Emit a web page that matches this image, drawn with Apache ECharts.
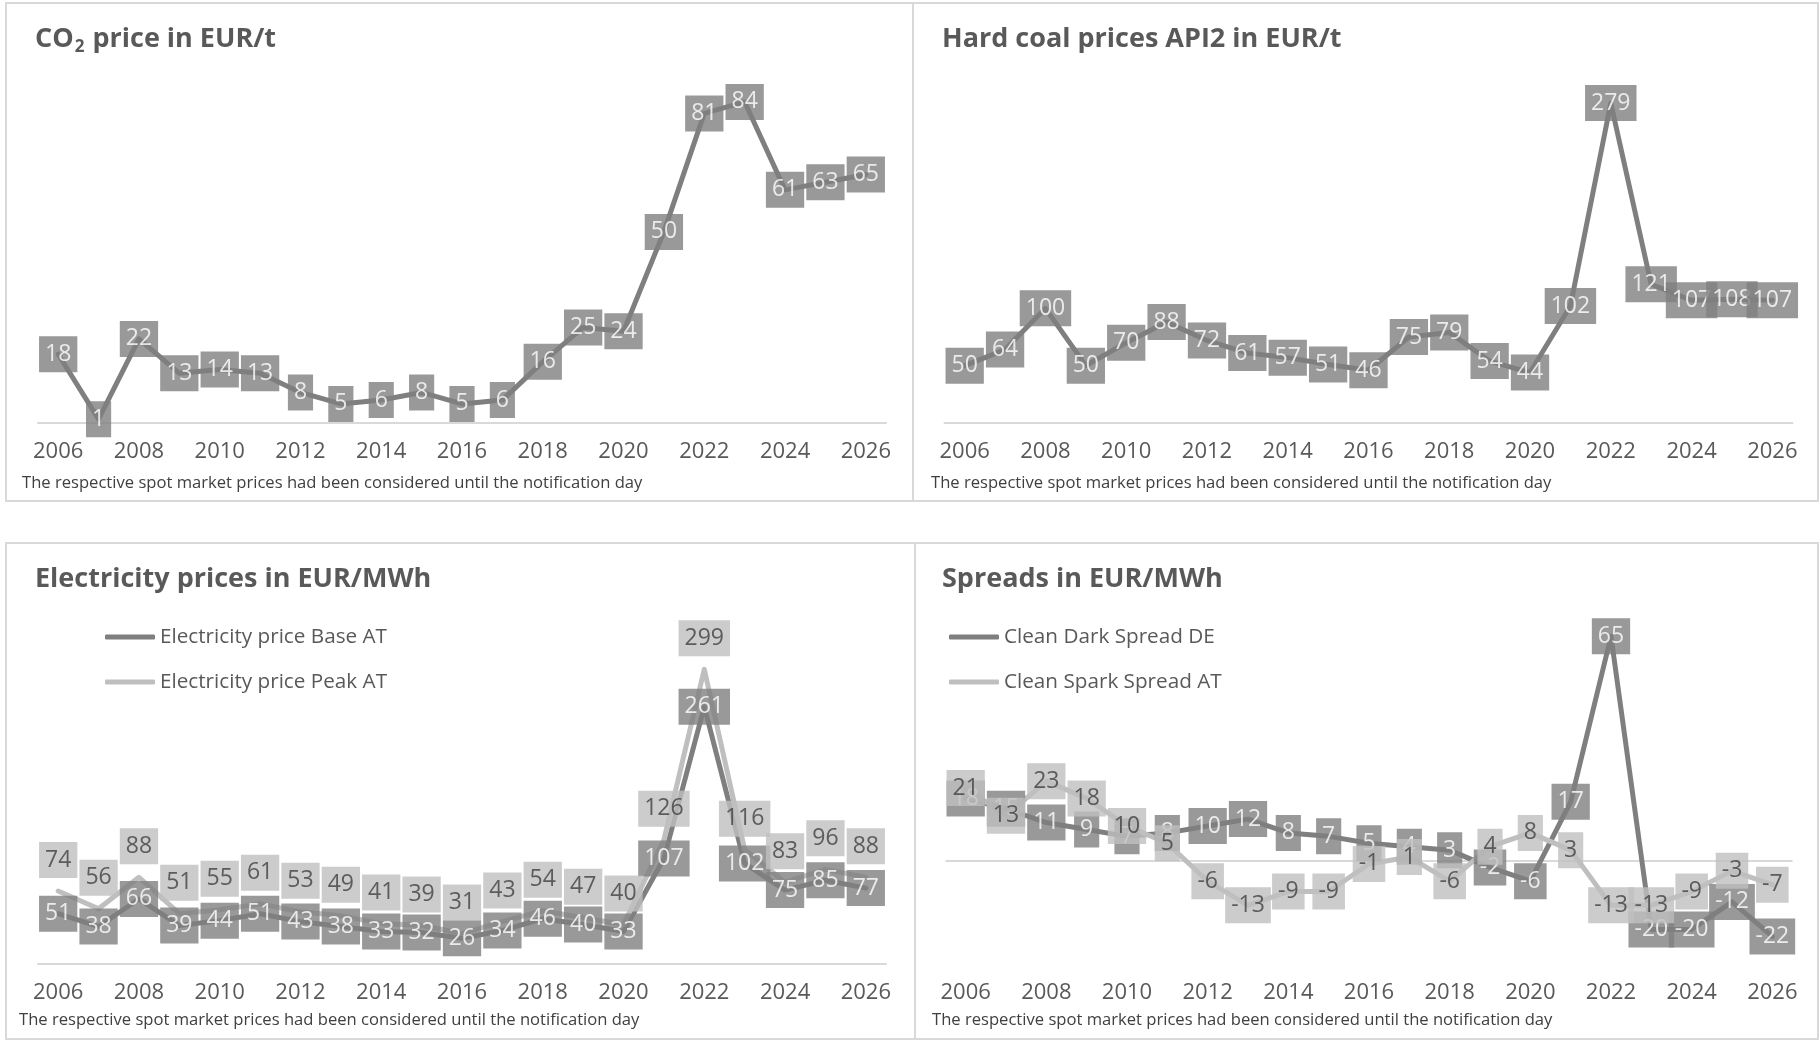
<!DOCTYPE html>
<html>
<head>
<meta charset="utf-8">
<title>Prices and spreads</title>
<script src="https://cdn.jsdelivr.net/npm/echarts@6/dist/echarts.min.js"></script>
<style>
html, body { margin: 0; padding: 0; background: #fff; }
#main { width: 1819px; height: 1041px; }
</style>
</head>
<body>
<div id="main"></div>
<script>
var years = ['2006','2007','2008','2009','2010','2011','2012','2013','2014','2015','2016',
             '2017','2018','2019','2020','2021','2022','2023','2024','2025','2026'];
var co2Price = [18, 1, 22, 13, 14, 13, 8, 5, 6, 8, 5, 6, 16, 25, 24, 50, 81, 84, 61, 63, 65];
var coalPrice = [50, 64, 100, 50, 70, 88, 72, 61, 57, 51, 46, 75, 79, 54, 44, 102, 279, 121, 107, 108, 107];
var elecBase = [51, 38, 66, 39, 44, 51, 43, 38, 33, 32, 26, 34, 46, 40, 33, 107, 261, 102, 75, 85, 77];
var elecPeak = [74, 56, 88, 51, 55, 61, 53, 49, 41, 39, 31, 43, 54, 47, 40, 126, 299, 116, 83, 96, 88];
var darkSpreadDE = [18, 15, 11, 9, 7, 8, 10, 12, 8, 7, 5, 4, 3, -2, -6, 17, 65, -20, -20, -12, -22];
var sparkSpreadAT = [21, 13, 23, 18, 10, 5, -6, -13, -9, -9, -1, 1, -6, 4, 8, 3, -13, -13, -9, -3, -7];
var footnote = 'The respective spot market prices had been considered until the notification day';

var DARK = '#7f7f7f';
var LIGHT = '#bfbfbf';
var TEXT = '#595959';
var BORDER = '#d9d9d9';
var FONT = '"Open Sans", "Noto Sans", sans-serif';

var myChart = echarts.init(document.getElementById('main'));

// panel frames
var frames = [[6, 3, 907, 498], [913, 3, 905, 498], [6, 543, 909, 496], [915, 543, 903, 496]];

function frame(f) {
  return {
    type: 'rect', silent: true, z: -1,
    shape: { x: f[0], y: f[1], width: f[2], height: f[3] },
    style: { fill: 'none', stroke: BORDER, lineWidth: 2 }
  };
}

function titleText(text, left, top) {
  return {
    text: text, left: left, top: top, padding: 0,
    textStyle: { fontFamily: FONT, fontSize: 27, fontWeight: 'bold', color: TEXT, lineHeight: 34 }
  };
}

function noteText(left, top) {
  return {
    text: footnote, left: left, top: top, padding: 0,
    textStyle: { fontFamily: FONT, fontSize: 16.6, fontWeight: 'normal', color: '#404040', lineHeight: 22 }
  };
}

function xAxis(idx, showLine) {
  return {
    type: 'category', gridIndex: idx, data: years, boundaryGap: true,
    axisTick: { show: false },
    axisLine: { show: showLine, onZero: false, lineStyle: { color: BORDER, width: 2 } },
    axisLabel: { interval: 1, color: TEXT, fontSize: 22, fontFamily: FONT, margin: 18 },
    splitLine: { show: false }
  };
}

function yAxis(idx, min, max) {
  return { type: 'value', gridIndex: idx, min: min, max: max, show: false, splitLine: { show: false } };
}

function lineSeries(name, data, idx, color, z) {
  return {
    name: name, type: 'line', data: data, xAxisIndex: idx, yAxisIndex: idx,
    symbol: 'none', z: z, silent: true,
    itemStyle: { color: color },
    lineStyle: { color: color, width: 5, join: 'round', cap: 'round' },
    emphasis: { disabled: true }
  };
}

function labelSeries(name, data, idx, bg, fg, dy, z) {
  return {
    name: name, type: 'scatter', data: data, xAxisIndex: idx, yAxisIndex: idx,
    symbolSize: 1, z: z, silent: true,
    itemStyle: { color: 'rgba(0,0,0,0)' },
    label: {
      show: true, position: 'inside', offset: [0, dy], formatter: '{c}',
      fontFamily: FONT, fontSize: 23, lineHeight: 25, color: fg,
      backgroundColor: bg, padding: [6, 6, 5, 6], textBorderWidth: 0
    },
    emphasis: { disabled: true }
  };
}

var legendText = { fontFamily: FONT, fontSize: 20.7, color: TEXT, lineHeight: 26 };

var spreadLine = lineSeries('Clean Dark Spread DE', darkSpreadDE, 3, DARK, 2);
spreadLine.markLine = {
  silent: true, symbol: 'none', z: 1, animation: false,
  label: { show: false },
  lineStyle: { color: BORDER, width: 2, type: 'solid' },
  data: [{ yAxis: 0 }]
};

option = {
  animation: false,
  backgroundColor: '#fff',
  graphic: frames.map(frame),
  title: [
    {
      text: '{b|CO}{s|2}{b| price in EUR/t}', left: 35, top: 22, padding: 0,
      textStyle: {
        rich: {
          b: { fontFamily: FONT, fontSize: 27, fontWeight: 'bold', color: TEXT, lineHeight: 34 },
          s: { fontFamily: FONT, fontSize: 17, fontWeight: 'bold', color: TEXT, lineHeight: 20, verticalAlign: 'bottom', padding: [0, 1, 0, 1] }
        }
      }
    },
    titleText('Hard coal prices API2 in EUR/t', 942, 22),
    titleText('Electricity prices in EUR/MWh', 35, 562),
    titleText('Spreads in EUR/MWh', 942, 562),
    noteText(22, 472),
    noteText(931, 472),
    noteText(19, 1009),
    noteText(932, 1009)
  ],
  legend: [
    {
      orient: 'vertical', left: 105, top: 624, padding: 0, itemGap: 19,
      itemWidth: 50, itemHeight: 5, icon: 'roundRect', textStyle: legendText,
      data: ['Electricity price Base AT', 'Electricity price Peak AT'], selectedMode: false
    },
    {
      orient: 'vertical', left: 949, top: 624, padding: 0, itemGap: 19,
      itemWidth: 50, itemHeight: 5, icon: 'roundRect', textStyle: legendText,
      data: ['Clean Dark Spread DE', 'Clean Spark Spread AT'], selectedMode: false
    }
  ],
  grid: [
    { left: 38, top: 79, width: 848, height: 344, outerBoundsMode: 'none' },
    { left: 944.5, top: 79, width: 848, height: 344, outerBoundsMode: 'none' },
    { left: 38, top: 619, width: 848, height: 345, outerBoundsMode: 'none' },
    { left: 945.5, top: 619, width: 847, height: 345, outerBoundsMode: 'none' }
  ],
  xAxis: [xAxis(0, true), xAxis(1, true), xAxis(2, true), xAxis(3, false)],
  yAxis: [yAxis(0, 0, 90), yAxis(1, 0, 300), yAxis(2, 0, 350), yAxis(3, -30, 70)],
  series: [
    lineSeries('CO2 price', co2Price, 0, DARK, 2),
    labelSeries('CO2 price labels', co2Price, 0, DARK, '#ffffff', 0, 4),

    lineSeries('Hard coal price', coalPrice, 1, DARK, 2),
    labelSeries('Hard coal labels', coalPrice, 1, DARK, '#ffffff', 0, 4),

    lineSeries('Electricity price Base AT', elecBase, 2, DARK, 2),
    lineSeries('Electricity price Peak AT', elecPeak, 2, LIGHT, 2),
    labelSeries('Base labels', elecBase, 2, DARK, '#ffffff', 0, 4),
    labelSeries('Peak labels', elecPeak, 2, LIGHT, '#404040', -31, 4),

    spreadLine,
    lineSeries('Clean Spark Spread AT', sparkSpreadAT, 3, LIGHT, 2),
    labelSeries('Dark spread labels', darkSpreadDE, 3, DARK, '#ffffff', 0, 4),
    labelSeries('Spark spread labels', sparkSpreadAT, 3, LIGHT, '#404040', 0, 4)
  ]
};

myChart.setOption(option);

window.onresize = function () {
  myChart.resize();
};
</script>
</body>
</html>
